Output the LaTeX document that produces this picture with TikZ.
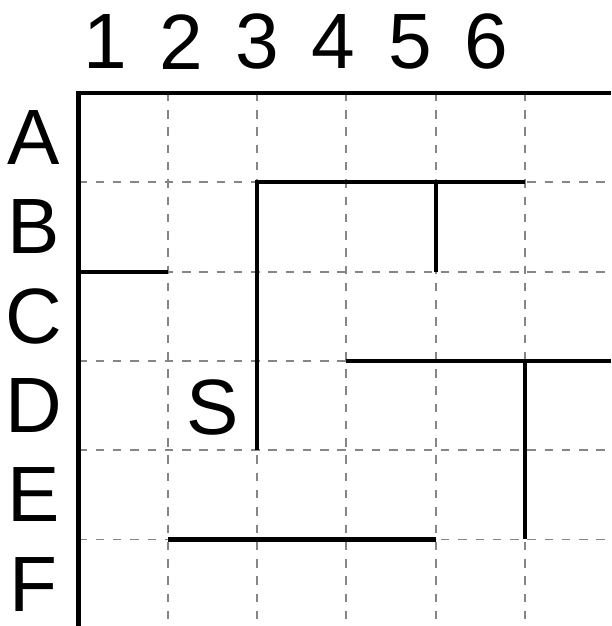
\documentclass[tikz,border=0pt]{standalone}
\usepackage{fontspec}
\setmainfont{Liberation Sans}
\usetikzlibrary{calc}

\begin{document}
\begin{tikzpicture}[x=1cm, y=1cm,
  grille/.style={gray!95, line width=0.6pt, dash pattern=on 2.7pt off 2.8pt},
  mur/.style={line width=1.3pt},
  etiq/.style={font=\fontsize{25}{30}\selectfont, inner sep=0pt}]
  % Cadre de la figure
  \path[use as bounding box, clip] (-0.879,-5.969) rectangle (5.963,1.041);
  % Grille en pointillés
  \foreach \i in {1,...,5} {
    \draw[grille] (\i,0) -- (\i,-6);
    \draw[grille] (0,-\i) -- (6,-\i);
  }
  % Bords du labyrinthe
  \draw[mur] (0,-6) -- (0,0) -- (6,0);
  % Numéros de colonnes et lettres de lignes
  \foreach \n [count=\k from 0] in {1,...,6}
    \node[etiq] (col\n) at ({0.30+0.853*\k}, 0.571) {\n};
  \foreach \l [count=\k] in {A,B,C,D,E,F}
    \node[etiq] (ligne\l) at (-0.5, {0.5-\k}) {\l};
  % Case de départ
  \node[etiq] (depart) at (1.5,-3.52) {S};
  % Murs
  \draw[mur] (0,-2) -- (1,-2);
  \draw[mur] (2,-4) -- (2,-1) -- (5,-1);
  \draw[mur] (4,-1) -- (4,-2);
  \draw[mur] (3,-3) -- (6,-3);
  \draw[mur] (5,-3) -- (5,-5);
  \draw[mur] (1,-5) -- (4,-5);
\end{tikzpicture}
\end{document}
